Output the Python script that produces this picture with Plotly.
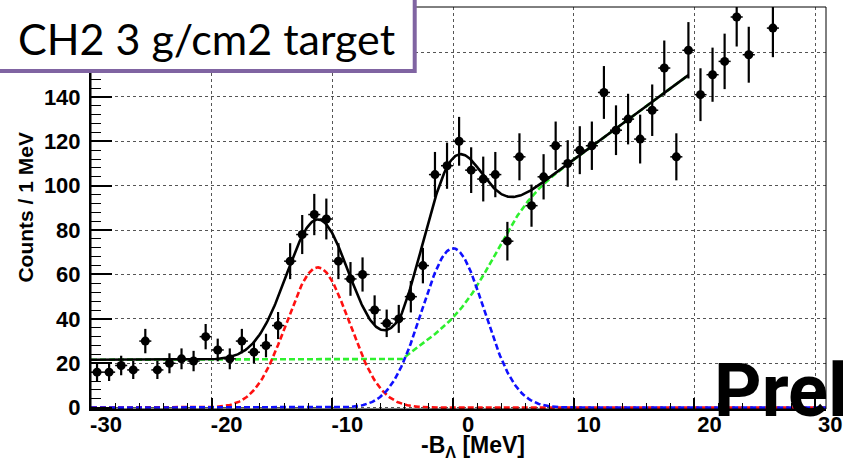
import math
import numpy as np
import plotly.graph_objects as go

# ---------------- data ----------------
bin_centers = [-29.5, -28.5, -27.5, -26.5, -25.5, -24.5, -23.5, -22.5, -21.5, -20.5,
               -19.5, -18.5, -17.5, -16.5, -15.5, -14.5, -13.5, -12.5, -11.5, -10.5,
               -9.5, -8.5, -7.5, -6.5, -5.5, -4.5, -3.5, -2.5, -1.5, -0.5,
               0.5, 1.5, 2.5, 3.5, 4.5, 5.5, 6.5, 7.5, 8.5, 9.5,
               10.5, 11.5, 12.5, 13.5, 14.5, 15.5, 16.5, 17.5, 18.5, 19.5,
               20.5, 21.5, 22.5, 23.5, 24.5, 26.5]
counts = [16, 16, 19, 17, 30, 17, 20, 22, 21, 32,
          26, 22, 30, 25, 28, 37, 66, 78, 87, 85,
          66, 58, 60, 44, 38, 40, 50, 64, 105, 109,
          120, 107, 103, 105, 75, 113, 91, 104, 118, 110,
          116, 118, 142, 125, 130, 121, 134, 153, 113, 161,
          141, 150, 156, 176, 159, 171]
count_errors = [4.0, 4.0, 4.4, 4.1, 5.5, 4.1, 4.5, 4.7, 4.6, 5.7,
                5.1, 4.7, 5.5, 5.0, 5.3, 6.1, 8.1, 8.8, 9.3, 9.2,
                8.1, 7.6, 7.7, 6.6, 6.2, 6.3, 7.1, 8.0, 10.2, 10.4,
                11.0, 10.3, 10.1, 10.2, 8.7, 10.6, 9.5, 10.2, 10.9, 10.5,
                10.8, 10.9, 11.9, 11.2, 11.4, 11.0, 11.6, 12.4, 10.6, 12.7,
                11.9, 12.2, 12.5, 13.3, 12.6, 13.1]
bin_half_width = 0.5

# fit components (parameters)
peak1_params = [63.2, -11.2, 2.6]     # amplitude, mean, sigma (red)
peak2_params = [71.8, 0.0, 2.6]       # amplitude, mean, sigma (blue)
bg_params = [21.6, -4.3, 4.0, 33.0, 3.5, 2.2]  # const, onset, slope, step, step mean, step width
fit_range = [-30.0, 19.5]

x_tick_vals = [-30, -20, -10, 0, 10, 20, 30]
x_tick_text = ["-30", "-20", "-10", "0", "10", "20", "30"]
y_tick_vals = [0, 20, 40, 60, 80, 100, 120, 140, 160]
y_tick_text = ["0", "20", "40", "60", "80", "100", "120", "140", ""]  # 160 hidden under the label box

label_text = "CH2 3 g/cm2 target"
stamp_text = "Prel"
x_title = "-B<sub>Λ</sub> [MeV]"
y_title = "Counts / 1 MeV"


def gauss(x, p):
    a, m, s = p
    return a * np.exp(-0.5 * ((x - m) / s) ** 2)


def background(x, p):
    c, x0, k, h, m, w = p
    ramp = np.clip(x - x0, 0, None) * k
    step = np.array([0.5 * h * (1 + math.erf((v - m) / (math.sqrt(2) * w))) for v in x])
    return c + ramp + step


xf = np.linspace(fit_range[0], fit_range[1], 600)
xg = np.linspace(-30, 30.9, 700)
bg = background(xf, bg_params)
total = bg + gauss(xf, peak1_params) + gauss(xf, peak2_params)

# ---------------- figure ----------------
W, H = 849, 461
ml, mr, mt, mb = 91, 11, 7, 52
pw, ph = W - ml - mr, H - mt - mb


def px(xp):
    return (xp - ml) / pw


def py(yp):
    return (H - mb - yp) / ph


fig = go.Figure()
dash = "6px,3px"
fig.add_trace(go.Scatter(x=xf, y=bg, mode="lines",
                         line=dict(color="#2ef02e", width=2.6, dash=dash), hoverinfo="skip"))
fig.add_trace(go.Scatter(x=xg, y=gauss(xg, peak1_params), mode="lines",
                         line=dict(color="#ff1010", width=2.6, dash=dash), hoverinfo="skip"))
fig.add_trace(go.Scatter(x=xg, y=gauss(xg, peak2_params), mode="lines",
                         line=dict(color="#1010ff", width=2.6, dash=dash), hoverinfo="skip"))
fig.add_trace(go.Scatter(x=xf, y=total, mode="lines",
                         line=dict(color="black", width=2.6), hoverinfo="skip"))
fig.add_trace(go.Scatter(
    x=bin_centers, y=counts, mode="markers",
    marker=dict(color="black", size=9, symbol="circle"),
    error_y=dict(type="data", array=count_errors, color="black", thickness=2.2, width=0),
    error_x=dict(type="constant", value=bin_half_width, color="black", thickness=1.5, width=0),
))

axis_font = dict(family="Liberation Sans, Arial, sans-serif", size=22, color="black", weight="bold")

fig.update_xaxes(
    range=[-30, 30.9], tickvals=x_tick_vals, ticktext=x_tick_text,
    ticks="inside", ticklen=11, tickwidth=1.5, tickcolor="black",
    minor=dict(dtick=2, tick0=0, ticks="inside", ticklen=6, tickwidth=1, tickcolor="black", showgrid=False),
    showgrid=True, gridcolor="#555555", griddash="dot", gridwidth=1,
    showline=True, linecolor="black", linewidth=2, zeroline=False,
    tickfont=axis_font, ticklabelshift=15, ticklabelstandoff=-5,
    ticklabeloverflow="allow",
)
fig.update_yaxes(
    range=[-0.6, 180.5], tickvals=y_tick_vals, ticktext=y_tick_text,
    ticks="inside", ticklen=21, tickwidth=1.5, tickcolor="black",
    minor=dict(dtick=4, tick0=0, ticks="inside", ticklen=10, tickwidth=1, tickcolor="black", showgrid=False),
    showgrid=True, gridcolor="#555555", griddash="dot", gridwidth=1,
    showline=True, linecolor="black", linewidth=2, zeroline=False,
    tickfont=axis_font, ticklabelstandoff=4, ticklabeloverflow="allow",
)

shapes = [
    dict(type="rect", xref="paper", yref="paper", x0=0, x1=1, y0=0, y1=1,
         line=dict(color="black", width=1), layer="above"),
    dict(type="rect", xref="paper", yref="paper",
         x0=px(-6), x1=px(420), y0=py(71), y1=py(-10),
         fillcolor="white", line=dict(color="#8064A2", width=4), layer="above"),
]

annotations = [
    dict(text=label_text, xref="paper", yref="paper", x=px(208), y=py(39),
         xanchor="center", yanchor="middle", showarrow=False,
         font=dict(family="Lato, Open Sans, sans-serif", size=43, color="black")),
    dict(text=stamp_text, xref="paper", yref="paper", x=px(722), y=py(390),
         xanchor="left", yanchor="middle", showarrow=False,
         font=dict(family="Roboto, Lato, sans-serif", size=74, color="black", weight="bold")),
    dict(text=x_title, xref="paper", yref="paper", x=px(479), y=py(447),
         xanchor="center", yanchor="middle", showarrow=False,
         font=dict(family="Liberation Sans, Arial, sans-serif", size=23, color="black", weight="bold")),
    dict(text=y_title, xref="paper", yref="paper", x=px(24), y=py(207.5),
         xanchor="center", yanchor="middle", showarrow=False, textangle=-90,
         font=dict(family="Liberation Sans, Arial, sans-serif", size=21, color="black", weight="bold")),
]

fig.update_layout(
    width=W, height=H, margin=dict(l=ml, r=mr, t=mt, b=mb, pad=0),
    paper_bgcolor="white", plot_bgcolor="white", showlegend=False,
    shapes=shapes, annotations=annotations,
)

fig.write_html("out.html")
